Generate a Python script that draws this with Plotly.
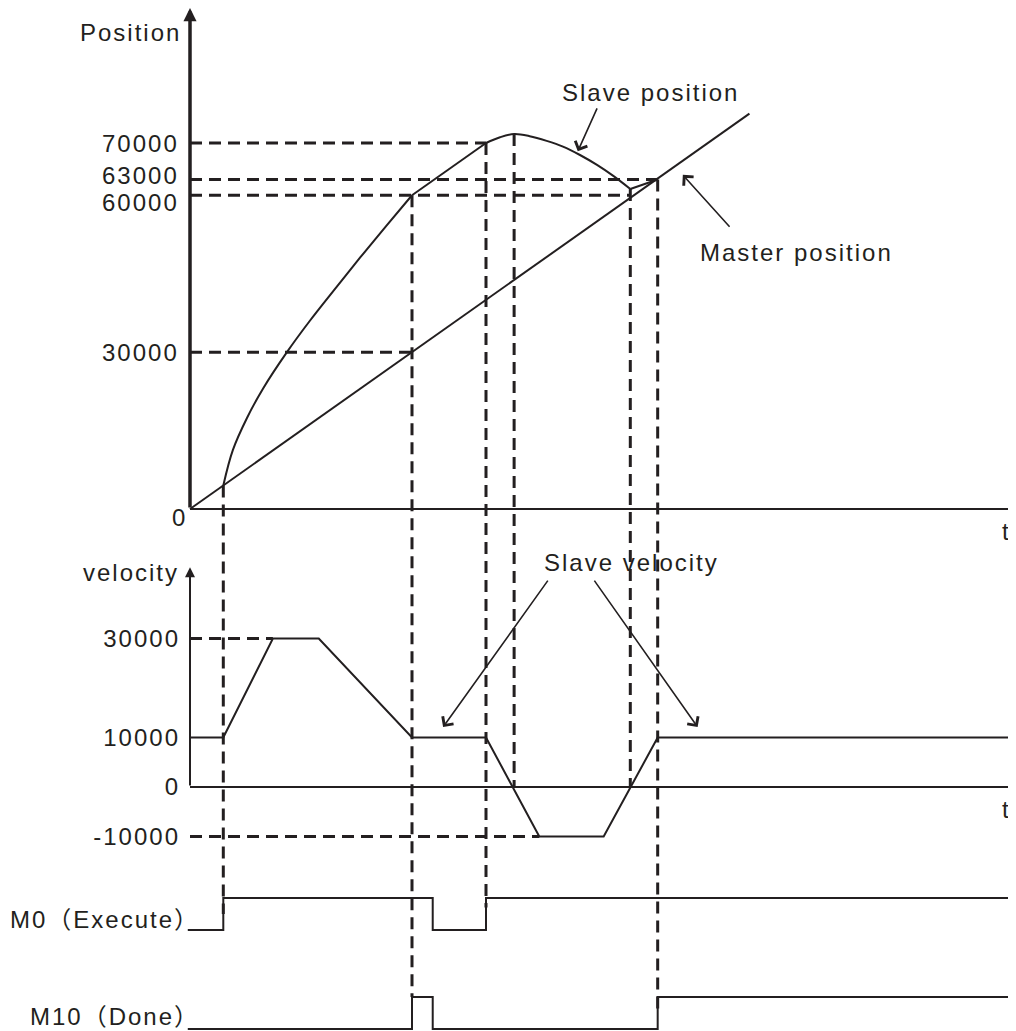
import plotly.graph_objects as go

W, H = 1016, 1031
OFF = 8  # page body margin of the browser
FIG_W, FIG_H = W - OFF, H - OFF
INK = "#231f20"
FONT = "Liberation Sans, Arial, Noto Sans CJK SC, sans-serif"

# ---- data (time in s, position / velocity in units) ----
t_end = 11.1

master_t = [0, 7.56]
master_pos = [0, 75600]

# slave position: accel curve, const part, hump, final link to master
slave_a_t = [0.45, 0.58, 0.77, 0.99, 1.31, 1.62, 1.96, 2.3, 2.65, 3.0]
slave_a_pos = [4500, 11300, 17400, 23100, 30000, 36000, 42100, 48100, 54100, 60000]
slave_b_t = [4.0, 4.19, 4.38, 4.59, 4.82, 5.04, 5.27, 5.5, 5.72, 5.95]
slave_b_pos = [70000, 71100, 71700, 71300, 70400, 69300, 67700, 65800, 63700, 61200]
slave_lin_t = [3.0, 4.0, None, 5.95, 6.32]
slave_lin_pos = [60000, 70000, None, 61200, 63000]

vel_t = [0, 0.45, 1.12, 1.74, 3.0, 4.0, 4.72, 5.59, 6.32, 11.1]
vel = [10000, 10000, 30000, 30000, 10000, 10000, -10000, -10000, 10000, 10000]

m0_t = [-0.03, 0.45, 3.28, 4.0, 11.08]
m0 = [0, 1, 0, 1, 1]
m10_t = [-0.03, 3.0, 3.28, 6.32, 11.08]
m10 = [0, 1, 0, 1, 1]

pos_ticks = [30000, 60000, 63000, 70000]
pos_tick_shift = [0, -7, 4, -1]   # label nudges (px) so the close ones don't collide
vel_ticks = [-10000, 0, 10000, 30000]

# dashed guides
h_guides = [("y", 70000, 4.0), ("y", 63000, 6.32), ("y", 60000, 5.95), ("y", 30000, 3.0),
            ("y2", 30000, 1.12), ("y2", -10000, 4.72)]
v_guides = [(0.45, "y", 4500, "y3", 0.5), (3.0, "y", 60000, "y4", 1.0),
            (4.0, "y", 70000, "y3", 0.7), (4.38, "y", 71700, "y2", 0),
            (5.95, "y", 61200, "y2", 0), (6.32, "y", 63000, "y4", 0.6)]

# ---- layout of the panels (zero line pixel, pixels per unit) ----
X0_PX, PX_PER_T = 190 - OFF, 74
PANELS = {"y": (509, 0.005229), "y2": (787, 0.00495), "y3": (930, 32), "y4": (1029, 32)}


def yrange(ax):
    zero, k = PANELS[ax]
    z = zero - OFF
    return [(z - FIG_H) / k, z / k]


def to_paper(ax, v):
    lo, hi = yrange(ax)
    return (v - lo) / (hi - lo)


def sp(s, ls=2):
    return f'<span style="letter-spacing:{ls}px">{s}</span>'


fig = go.Figure()
line = dict(color=INK, width=2)

fig.add_trace(go.Scatter(x=master_t, y=master_pos, mode="lines", line=line, yaxis="y"))
fig.add_trace(go.Scatter(x=slave_a_t, y=slave_a_pos, mode="lines",
                         line=dict(color=INK, width=2, shape="spline"), yaxis="y"))
fig.add_trace(go.Scatter(x=slave_b_t, y=slave_b_pos, mode="lines",
                         line=dict(color=INK, width=2, shape="spline"), yaxis="y"))
fig.add_trace(go.Scatter(x=slave_lin_t, y=slave_lin_pos, mode="lines", line=line, yaxis="y"))
fig.add_trace(go.Scatter(x=vel_t, y=vel, mode="lines", line=line, yaxis="y2"))
fig.add_trace(go.Scatter(x=m0_t, y=m0, mode="lines", line=dict(color=INK, width=2, shape="hv"), yaxis="y3"))
fig.add_trace(go.Scatter(x=m10_t, y=m10, mode="lines", line=dict(color=INK, width=2, shape="hv"), yaxis="y4"))

dash = dict(color=INK, width=3, dash="12px,7px")
for ax, v, t in h_guides:
    fig.add_shape(type="line", xref="x", yref=ax, x0=0, x1=t, y0=v, y1=v, line=dash)
for t, ax_a, va, ax_b, vb in v_guides:
    fig.add_shape(type="line", xref="x", yref="paper", x0=t, x1=t,
                  y0=to_paper(ax_a, va), y1=to_paper(ax_b, vb), line=dash)

# time axes
for ax in ["y", "y2"]:
    k = PANELS[ax][1]
    fig.add_shape(type="line", xref="x", yref=ax, x0=0, x1=t_end, y0=0, y1=0,
                  line=dict(color=INK, width=2))
    fig.add_shape(type="line", xref="x", yref=ax, x0=t_end, x1=t_end, y0=-5 / k, y1=5 / k,
                  line=dict(color=INK, width=2))
    fig.add_annotation(x=t_end - 0.08, y=-22 / k, xref="x", yref=ax, text="t", showarrow=False,
                       font=dict(size=24), xanchor="center", yanchor="middle")

# vertical axes with arrows
fig.add_annotation(x=0, y=95800, ax=0, ay=0, xref="x", yref="y", axref="x", ayref="y",
                   text="", showarrow=True, arrowhead=2, arrowsize=0.75, arrowwidth=3.5, arrowcolor=INK)
fig.add_annotation(x=0, y=44400, ax=0, ay=0, xref="x", yref="y2", axref="x", ayref="y2",
                   text="", showarrow=True, arrowhead=2, arrowsize=1, arrowwidth=2, arrowcolor=INK)

# position tick labels
for v, dy in zip(pos_ticks, pos_tick_shift):
    fig.add_annotation(x=0, y=v, xref="x", yref="y", text=sp(v), showarrow=False,
                       xanchor="right", yanchor="middle", xshift=-9, yshift=dy, font=dict(size=24))

texts = [
    (-0.10, 91200, "y", sp("Position"), "right", 0),
    (-0.01, -1700, "y", sp("0"), "right", 0),
    (-0.12, 43400, "y2", sp("velocity"), "right", 0),
    (5.0, 79700, "y", sp("Slave position"), "left", 0),
    (6.86, 49000, "y", sp("Master position"), "left", 0),
    (4.76, 45400, "y2", sp("Slave velocity"), "left", 0),
    (-0.03, 0.34, "y3", sp("M0（Execute）"), "right", 14),
    (-0.03, 0.38, "y4", sp("M10（Done）"), "right", 14),
]
for x, y, ax, txt, anc, dx in texts:
    fig.add_annotation(x=x, y=y, xref="x", yref=ax, text=txt, showarrow=False,
                       xanchor=anc, yanchor="middle", xshift=dx, font=dict(size=24))

# callout arrows (tip, tail)
callouts = [
    ("y", 5.24, 68400, 5.51, 76900),
    ("y", 6.66, 63900, 7.31, 53700),
    ("y2", 3.42, 12100, 4.85, 42000),
    ("y2", 6.86, 12100, 5.45, 42000),
]
for ax, x, y, tx, ty in callouts:
    fig.add_annotation(x=x, y=y, ax=tx, ay=ty, xref="x", yref=ax, axref="x", ayref=ax,
                       text="", showarrow=True, arrowhead=4, arrowsize=1.6, arrowwidth=1.6,
                       arrowcolor=INK)

tickfont = dict(size=24, color=INK, family=FONT)
fig.update_layout(
    width=FIG_W, height=FIG_H, margin=dict(l=0, r=0, t=0, b=0),
    paper_bgcolor="white", plot_bgcolor="white", showlegend=False,
    font=dict(family=FONT, color=INK, size=24),
    xaxis=dict(range=[-X0_PX / PX_PER_T, (FIG_W - X0_PX) / PX_PER_T], visible=False),
    yaxis=dict(range=yrange("y"), showgrid=False, zeroline=False, showline=False,
               showticklabels=False, ticks=""),
    yaxis2=dict(range=yrange("y2"), overlaying="y", anchor="free", position=X0_PX / FIG_W,
                showgrid=False, zeroline=False, showline=False, ticks="", tickvals=vel_ticks,
                ticktext=[sp(v) for v in vel_ticks], tickfont=tickfont, ticklabelstandoff=10),
    yaxis3=dict(range=yrange("y3"), overlaying="y", visible=False),
    yaxis4=dict(range=yrange("y4"), overlaying="y", visible=False),
)

fig.write_html("out.html")
